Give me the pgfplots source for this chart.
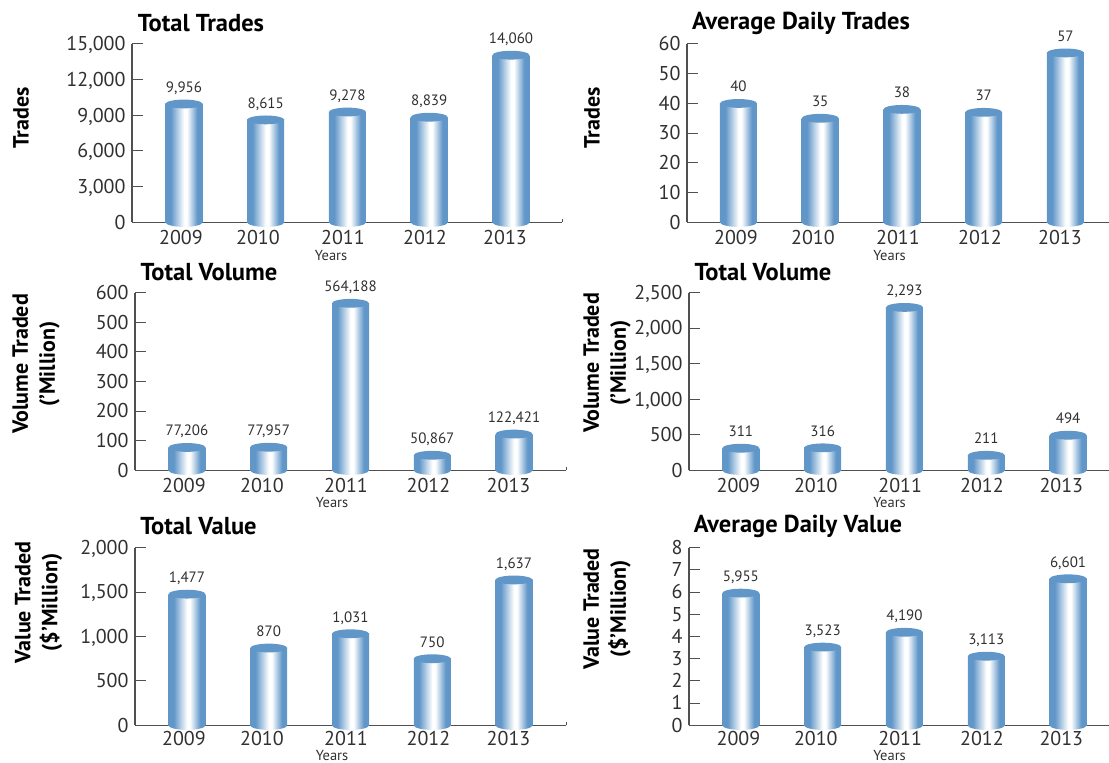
\documentclass[border=0pt]{standalone}
\usepackage{fontspec}
\setmainfont{PT Sans}
\usepackage{pgfplots}
\pgfplotsset{compat=1.18}
\definecolor{barblue}{HTML}{6096C8}
\definecolor{txt}{HTML}{303030}
\definecolor{axc}{HTML}{505050}
\pgfdeclarehorizontalshading{cyl}{100bp}{color(0bp)=(barblue);color(32bp)=(barblue);color(50bp)=(white);color(54bp)=(white);color(68bp)=(barblue);color(100bp)=(barblue)}
\pgfdeclareplotmark{captop}{\pgfpathellipse{\pgfpointorigin}{\pgfqpoint{18.5pt}{0pt}}{\pgfqpoint{0pt}{4.4pt}}\pgfusepathqfill}
\pgfdeclareplotmark{capbot}{\pgfpathellipse{\pgfpointorigin}{\pgfqpoint{18.5pt}{0pt}}{\pgfqpoint{0pt}{4.6pt}}\pgfshadepath{cyl}{0}\pgfusepath{discard}}
\pgfplotsset{
  every axis title shift=0pt,
  panel/.style={
    scale only axis, clip=false, axis lines=left, axis line style={-,color=axc,line width=1.1pt},
    ymin=0, tick align=inside, major tick length=11pt,
    ytick style={color=axc,line width=1pt}, xtick style={draw=none},
    xticklabels={2009,2010,2011,2012,2013},
    tick label style={font=\fontsize{20}{22}\selectfont,text=txt},
    /pgf/number format/assume math mode=true,
    /pgf/number format/1000 sep={,},
    scaled y ticks=false,
    yticklabel style={xshift=-3pt,text height=13.5pt,text depth=0pt},
    xticklabel style={yshift=-7.5pt,inner sep=1pt,text height=13.5pt,text depth=0pt},
    title style={font=\fontsize{24.5}{26}\bfseries\selectfont,text=black,anchor=center},
    ylabel style={font=\fontsize{22}{27}\bfseries\selectfont,text=black,anchor=center,align=center},
    xlabel style={font=\fontsize{14.5}{16}\selectfont,text=txt,anchor=center,inner sep=0pt},
  },
  caps/.style={only marks,mark=captop,mark options={fill=barblue,draw=none},draw=none,
    nodes near coords,point meta=explicit symbolic,
    every node near coord/.append style={anchor=base,yshift=11.5pt,inner sep=0pt,
      font=\fontsize{15}{16}\selectfont,text=txt}},
  bots/.style={only marks,mark=capbot,draw=none},
}
\newcommand{\cylbar}[2]{\addplot[ybar,bar width=37pt,bar shift=0pt,draw=none,shade,shading=cyl] coordinates {(#1,#2)};}
\begin{document}
\begin{tikzpicture}
\path[use as bounding box] (0,0) rectangle (1109pt,763pt);

% Total Trades
\begin{axis}[panel,at={(132pt,540.7pt)},anchor=south west,width=430pt,height=178.3pt,
  xmin=-0.636,xmax=4.624,ymax=15000,ytick={0,3000,6000,9000,12000,15000},
  xtick={-0.037,0.905,1.945,2.948,3.927},
  title={Total Trades},title style={at={(axis description cs:0.1605,1.118)}},
  ylabel={Trades},ylabel style={at={(axis description cs:-0.258,0.585)}},
  xlabel={Years},xlabel style={at={(axis description cs:0.4628,-0.187)}}]
\cylbar{0}{9956}\cylbar{1}{8615}\cylbar{2}{9278}\cylbar{3}{8839}\cylbar{4}{14060}
\addplot[bots] coordinates {(0,0)(1,0)(2,0)(3,0)(4,0)};
\addplot[caps] coordinates {(0,9956)[9,956] (1,8615)[8,615] (2,9278)[9,278] (3,8839)[8,839] (4,14060)[14,060]};
\draw[axc,line width=0.8pt] (rel axis cs:1,0) -- (rel axis cs:1,0.02);
\end{axis}

% Average Daily Trades
\begin{axis}[panel,at={(687pt,540.7pt)},anchor=south west,width=422pt,height=178.3pt,
  xmin=-0.630,xmax=4.533,ymax=60,ytick={0,10,20,30,40,50,60},
  xtick={-0.031,0.911,1.951,2.954,3.933},
  title={Average Daily Trades},title style={at={(axis description cs:0.2701,1.118)}},
  ylabel={Trades},ylabel style={at={(axis description cs:-0.225,0.585)}},
  xlabel={Years},xlabel style={at={(axis description cs:0.480,-0.187)}}]
\cylbar{0}{40}\cylbar{1}{35}\cylbar{2}{38}\cylbar{3}{37}\cylbar{4}{57}
\addplot[bots] coordinates {(0,0)(1,0)(2,0)(3,0)(4,0)};
\addplot[caps] coordinates {(0,40)[40] (1,35)[35] (2,38)[38] (3,37)[37] (4,57)[57]};
\end{axis}

% Total Volume (left)
\begin{axis}[panel,at={(135pt,292.7pt)},anchor=south west,width=431pt,height=177.6pt,
  xmin=-0.636,xmax=4.636,ymax=600,ytick={0,100,200,300,400,500,600},
  xtick={-0.037,0.917,1.945,2.954,3.933},
  title={Total Volume},title style={at={(axis description cs:0.1717,1.1166)}},
  ylabel={Volume Traded\\(’Million)},ylabel style={at={(axis description cs:-0.2297,0.5986)}},
  xlabel={Years},xlabel style={at={(axis description cs:0.4571,-0.184)}}]
\cylbar{0}{77.206}\cylbar{1}{77.957}\cylbar{2}{564.188}\cylbar{3}{50.867}\cylbar{4}{122.421}
\addplot[bots] coordinates {(0,0)(1,0)(2,0)(3,0)(4,0)};
\addplot[caps] coordinates {(0,77.206)[77,206] (1,77.957)[77,957] (2,564.188)[564,188] (3,50.867)[50,867] (4,122.421)[122,421]};
\draw[axc,line width=0.8pt] (rel axis cs:1,0) -- (rel axis cs:1,0.02);
\end{axis}

% Total Volume (right)
\begin{axis}[panel,at={(689pt,292.7pt)},anchor=south west,width=420pt,height=177.6pt,
  xmin=-0.634,xmax=4.5,ymax=2500,ytick={0,500,1000,1500,2000,2500},
  xtick={-0.029,0.916,1.947,2.947,3.917},
  title={Total Volume},title style={at={(axis description cs:0.1762,1.1166)}},
  ylabel={Volume Traded\\(’Million)},ylabel style={at={(axis description cs:-0.1952,0.604)}},
  xlabel={Years},xlabel style={at={(axis description cs:0.4776,-0.184)}}]
\cylbar{0}{311}\cylbar{1}{316}\cylbar{2}{2293}\cylbar{3}{211}\cylbar{4}{494}
\addplot[bots] coordinates {(0,0)(1,0)(2,0)(3,0)(4,0)};
\addplot[caps] coordinates {(0,311)[311] (1,316)[316] (2,2293)[2,293] (3,211)[211] (4,494)[494]};
\end{axis}

% Total Value
\begin{axis}[panel,at={(135pt,37.7pt)},anchor=south west,width=431pt,height=177.6pt,
  xmin=-0.636,xmax=4.636,ymax=2000,ytick={0,500,1000,1500,2000},
  xtick={-0.037,0.917,1.945,2.954,3.933},
  xticklabel style={yshift=2pt},
  title={Total Value},title style={at={(axis description cs:0.1473,1.122)}},
  ylabel={Value Traded\\(\$’Million)},ylabel style={at={(axis description cs:-0.2239,0.6914)}},
  xlabel={Years},xlabel style={at={(axis description cs:0.4571,-0.171)}}]
\cylbar{0}{1477}\cylbar{1}{870}\cylbar{2}{1031}\cylbar{3}{750}\cylbar{4}{1637}
\addplot[bots] coordinates {(0,0)(1,0)(2,0)(3,0)(4,0)};
\addplot[caps] coordinates {(0,1477)[1,477] (1,870)[870] (2,1031)[1,031] (3,750)[750] (4,1637)[1,637]};
\draw[axc,line width=0.8pt] (rel axis cs:1,0) -- (rel axis cs:1,0.02);
\end{axis}

% Average Daily Value
\begin{axis}[panel,at={(689pt,37.7pt)},anchor=south west,width=420pt,height=177.6pt,
  xmin=-0.634,xmax=4.5,ymax=8,ytick={0,1,2,3,4,5,6,7,8},
  xtick={-0.029,0.916,1.947,2.947,3.917},
  xticklabel style={yshift=2pt},
  title={Average Daily Value},title style={at={(axis description cs:0.2595,1.122)}},
  ylabel={Value Traded\\(\$’Million)},ylabel style={at={(axis description cs:-0.1952,0.6548)}},
  xlabel={Years},xlabel style={at={(axis description cs:0.4776,-0.171)}}]
\cylbar{0}{5.955}\cylbar{1}{3.523}\cylbar{2}{4.190}\cylbar{3}{3.113}\cylbar{4}{6.601}
\addplot[bots] coordinates {(0,0)(1,0)(2,0)(3,0)(4,0)};
\addplot[caps] coordinates {(0,5.955)[5,955] (1,3.523)[3,523] (2,4.190)[4,190] (3,3.113)[3,113] (4,6.601)[6,601]};
\end{axis}
\end{tikzpicture}
\end{document}
